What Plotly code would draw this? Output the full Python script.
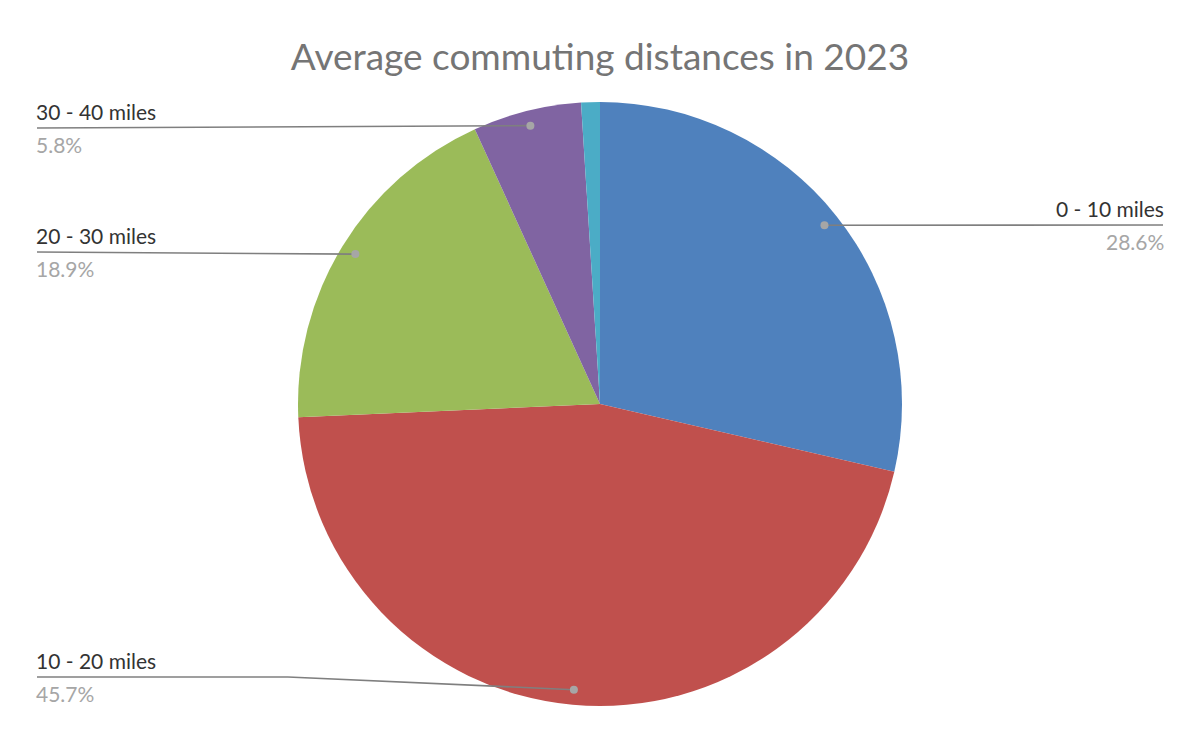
import math
import plotly.graph_objects as go

# ---------- Data ----------
labels = ["0 - 10 miles", "10 - 20 miles", "20 - 30 miles", "30 - 40 miles", "40+ miles"]
values = [28.6, 45.7, 18.9, 5.8, 1.0]
colors = ["#4F81BD", "#C0504D", "#9BBB59", "#8064A2", "#4BACC6"]
show_label = [True, True, True, True, False]

# ---------- Layout helpers ----------
W, H = 1200, 742
OFF = 8                            # page body margin
CX, CY, R = 600, 404, 302          # pie centre / radius in px
label_side = ["right", "left", "left", "left", None]
label_line_y = [225, 677, 252, 128, None]
left_x, right_x, elbow_x = 37, 1163, 288
FONT = "Lato"


def px_x(x):
    return (x - OFF) / W


def px_y(y):
    return 1 - (y - OFF) / H


fig = go.Figure(go.Pie(
    labels=labels, values=values, sort=False, direction="clockwise", rotation=0,
    marker=dict(colors=colors, line=dict(width=0)),
    textinfo="none", hoverinfo="label+percent",
    domain=dict(x=[px_x(CX - R), px_x(CX + R)], y=[px_y(CY + R), px_y(CY - R)]),
    showlegend=False,
))

shapes, annotations = [], []
total = sum(values)
cum = 0.0
for lab, v, show, side, ly in zip(labels, values, show_label, label_side, label_line_y):
    mid = (cum + v / 2) / total * 2 * math.pi
    cum += v
    if not show:
        continue
    dx = CX + 0.95 * R * math.sin(mid)
    dy = CY - 0.95 * R * math.cos(mid)
    line_col = "#7F7F7F"
    if side == "right":
        pts = [(dx, dy), (right_x, ly)]
        tx, anchor = right_x, "right"
    else:
        if abs(dy - ly) < 4:
            pts = [(left_x, ly), (dx, dy)]
        else:
            pts = [(left_x, ly), (elbow_x, ly), (dx, dy)]
        tx, anchor = left_x, "left"
    for (x0, y0), (x1, y1) in zip(pts[:-1], pts[1:]):
        shapes.append(dict(type="line", xref="paper", yref="paper",
                           x0=px_x(x0), y0=px_y(y0), x1=px_x(x1), y1=px_y(y1),
                           line=dict(color=line_col, width=1.6)))
    shapes.append(dict(type="circle", xref="paper", yref="paper",
                       x0=px_x(dx - 4), x1=px_x(dx + 4), y0=px_y(dy + 4), y1=px_y(dy - 4),
                       fillcolor="#A6A6A6", line=dict(width=0)))
    tx_adj = tx - 3 if anchor == "left" else tx + 3
    annotations.append(dict(xref="paper", yref="paper", x=px_x(tx_adj), y=px_y(ly - 2),
                            xanchor=anchor, yanchor="bottom", showarrow=False,
                            text=lab, font=dict(family=FONT, size=21, color="#333333")))
    annotations.append(dict(xref="paper", yref="paper", x=px_x(tx_adj), y=px_y(ly + 2),
                            xanchor=anchor, yanchor="top", showarrow=False,
                            text=f"{v:.1f}%", font=dict(family=FONT, size=21, color="#A6A6A6")))

fig.update_layout(
    width=W, height=H,
    margin=dict(l=0, r=0, t=0, b=0),
    paper_bgcolor="white", plot_bgcolor="white",
    title=dict(text="Average commuting distances in 2023", x=px_x(600), xanchor="center",
               y=px_y(57), yanchor="middle",
               font=dict(family=FONT, size=37, color="#757575")),
    shapes=shapes, annotations=annotations,
)

fig.write_html("out.html")
